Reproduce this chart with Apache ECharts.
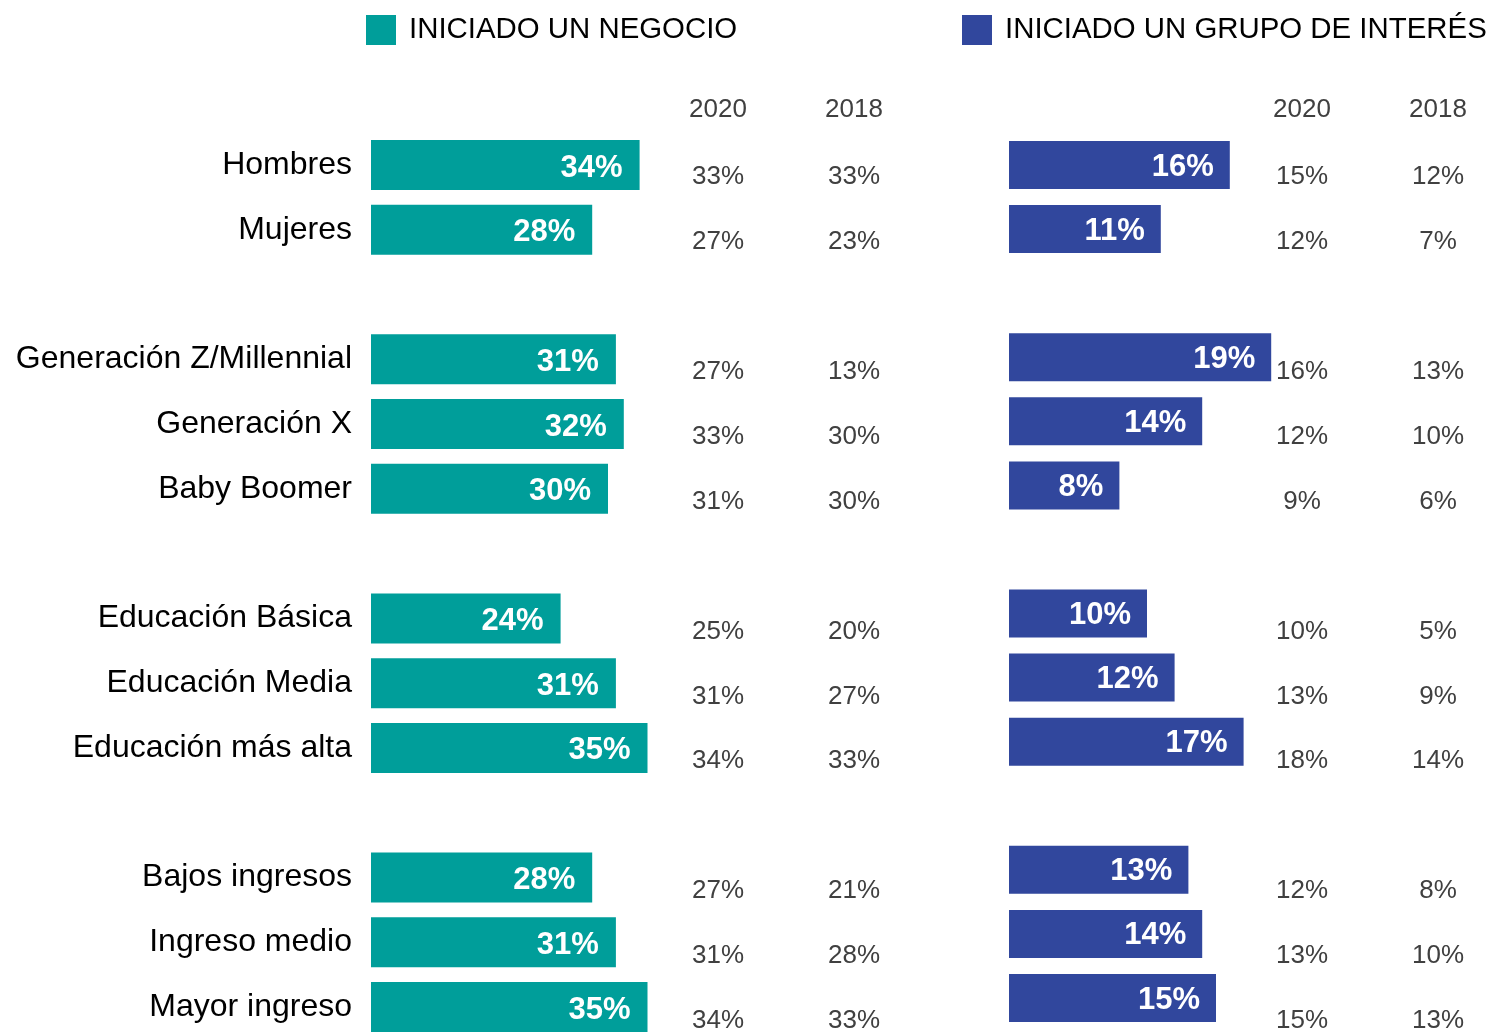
<!DOCTYPE html>
<html><head><meta charset="utf-8">
<script src="https://cdn.jsdelivr.net/npm/echarts@6/dist/echarts.min.js"></script>
<style>html,body{margin:0;padding:0;background:#fff}#c{width:1489px;height:1034px}</style>
</head><body><div id="c"></div>
<script>
const categories = ['Hombres','Mujeres',' ','Generación Z/Millennial','Generación X','Baby Boomer','  ','Educación Básica','Educación Media','Educación más alta','   ','Bajos ingresos','Ingreso medio','Mayor ingreso'];
const negocioActual = [34,28,null,31,32,30,null,24,31,35,null,28,31,35];
const negocio2020 = [33,27,null,27,33,31,null,25,31,34,null,27,31,34];
const negocio2018 = [33,23,null,13,30,30,null,20,27,33,null,21,28,33];
const grupoActual = [16,11,null,19,14,8,null,10,12,17,null,13,14,15];
const grupo2020 = [15,12,null,16,12,9,null,10,13,18,null,12,13,15];
const grupo2018 = [12,7,null,13,10,6,null,5,9,14,null,8,10,13];
const columnHeaders = ['2020','2018'];
const seriesNames = ['INICIADO UN NEGOCIO','INICIADO UN GRUPO DE INTERÉS'];

const FONT = "'Liberation Sans', Arial, sans-serif";
const TEAL = '#009E9A';
const NAVY = '#31479D';
const GRAY = '#404040';
const pct = v => (v === null || v === undefined) ? '' : v + '%';

const chart = echarts.init(document.getElementById('c'), null, {renderer:'canvas'});

function valueAxis(arr, margin) {
  return {
    type:'category', gridIndex:2, inverse:true, boundaryGap:false, position:'right', data:categories,
    axisLine:{show:false}, axisTick:{show:false}, splitLine:{show:false},
    axisLabel:{interval:0, margin:margin, align:'center', verticalAlign:'middle', fontSize:26, color:GRAY, fontFamily:FONT,
      formatter:(v,i)=>pct(arr[i])}
  };
}
function header(x, text) {
  return {type:'text', x:x, y:110, style:{text:text, textAlign:'center', textVerticalAlign:'middle', fontSize:26, fill:GRAY, fontFamily:FONT}};
}

const option = {
  backgroundColor:'#fff',
  animation:false,
  legend:[
    {data:[seriesNames[0]], left:361, top:10, itemWidth:30, itemHeight:30, icon:'rect',
     textStyle:{fontSize:29.4, color:'#000', fontFamily:FONT, padding:[0,0,0,8]}},
    {data:[seriesNames[1]], left:957, top:10, itemWidth:30, itemHeight:30, icon:'rect',
     textStyle:{fontSize:29.4, color:'#000', fontFamily:FONT, padding:[0,0,0,8]}}
  ],
  grid:[
    {left:371, top:165, width:316, height:842},
    {left:1009, top:165, width:276, height:833},
    {left:371, top:177, width:316, height:845}
  ],
  xAxis:[
    {type:'value', gridIndex:0, min:0, max:40, show:false},
    {type:'value', gridIndex:1, min:0, max:20, show:false},
    {type:'value', gridIndex:2, min:0, max:40, show:false}
  ],
  yAxis:[
    {type:'category', gridIndex:0, inverse:true, boundaryGap:false, data:categories,
     axisLine:{show:false}, axisTick:{show:false}, splitLine:{show:false},
     axisLabel:{interval:0, margin:19, fontSize:32, color:'#000', fontFamily:FONT, lineHeight:36, verticalAlign:'middle',
       formatter:v=>v}},
    {type:'category', gridIndex:1, inverse:true, boundaryGap:false, data:categories, show:false},
    valueAxis(negocio2020, 31),
    valueAxis(negocio2018, 167),
    valueAxis(grupo2020, 615),
    valueAxis(grupo2018, 751)
  ],
  graphic:[
    header(718, columnHeaders[0]),
    header(854, columnHeaders[1]),
    header(1302, columnHeaders[0]),
    header(1438, columnHeaders[1])
  ],
  series:[
    {name:seriesNames[0], type:'bar', xAxisIndex:0, yAxisIndex:0, data:negocioActual, barWidth:50, clip:false,
     itemStyle:{color:TEAL},
     label:{show:true, position:'insideRight', distance:17, offset:[0,3], color:'#fff', fontWeight:'bold', fontSize:31, fontFamily:FONT,
       formatter:p=>pct(p.value)}},
    {name:seriesNames[1], type:'bar', xAxisIndex:1, yAxisIndex:1, data:grupoActual, barWidth:48, clip:false,
     itemStyle:{color:NAVY},
     label:{show:true, position:'insideRight', distance:16, offset:[0,2], color:'#fff', fontWeight:'bold', fontSize:31, fontFamily:FONT,
       formatter:p=>pct(p.value)}}
  ]
};
chart.setOption(option);
</script>
</body></html>
